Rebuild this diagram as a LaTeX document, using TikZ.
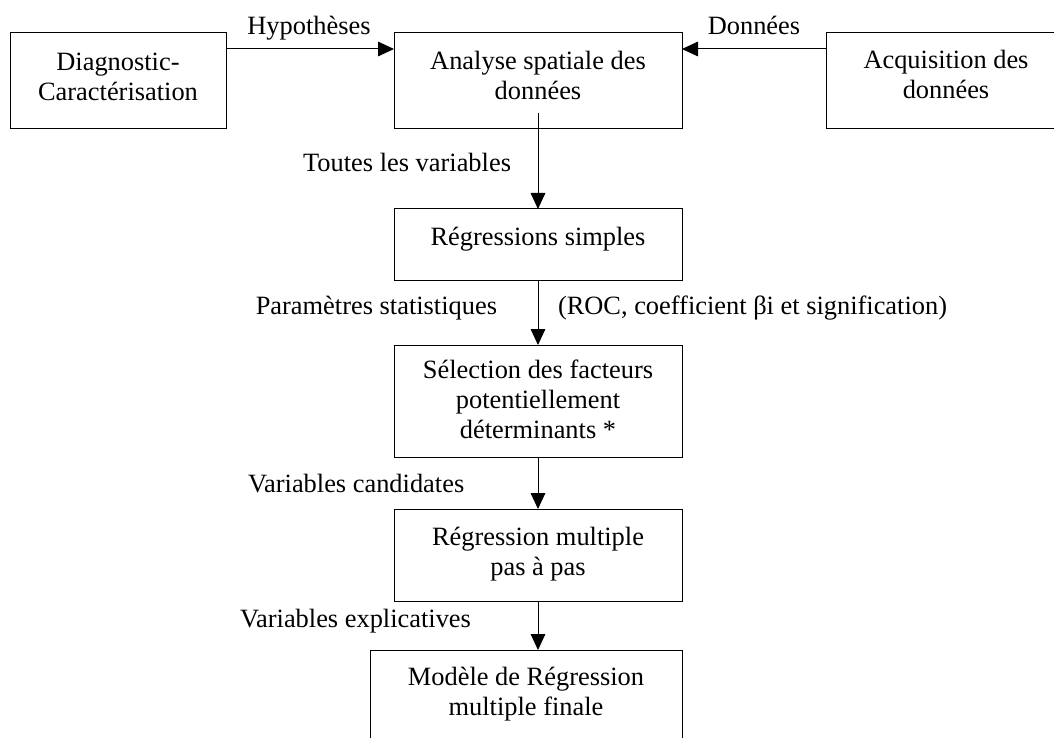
\documentclass[tikz,border=0pt]{standalone}
\usepackage{fontspec}
\setmainfont{Liberation Serif}
\usetikzlibrary{arrows.meta}
\begin{document}
\begin{tikzpicture}[x=0.75pt,y=-0.75pt,
  box/.style={draw,line width=0.75pt,inner sep=0pt,outer sep=0pt,rectangle},
  txt/.style={inner sep=0pt,outer sep=0pt,align=center,font=\fontsize{19.8pt}{22.5pt}\selectfont,anchor=north},
  lbl/.style={inner sep=0pt,outer sep=0pt,font=\fontsize{19.8pt}{22.5pt}\selectfont},
  conn/.style={line width=0.75pt,-{Triangle[length=12pt,width=11pt]}}]
\clip (0,0) rectangle (1054,738);
% boxes
\node[box,minimum width=162pt,minimum height=72pt] (dg) at (118,81) {};
\node[box,minimum width=216pt,minimum height=72pt] (an) at (538,81) {};
\node[box,minimum width=180pt,minimum height=72pt] (aq) at (946,81) {};
\node[box,minimum width=216pt,minimum height=54pt] (rs) at (538,245) {};
\node[box,minimum width=216pt,minimum height=84pt] (sel) at (538,401) {};
\node[box,minimum width=216pt,minimum height=69pt] (rm) at (538,555) {};
\node[box,minimum width=234pt,minimum height=105pt] (mod) at (526,720) {};
% box texts
\node[txt] (tdg) at (118,50) {\strut Diagnostic-\\Caractérisation};
\node[txt] (tan) at (538,49) {\strut Analyse spatiale des\\données};
\node[txt] (taq) at (946,48) {\strut Acquisition des\\données};
\node[txt] (trs) at (538,225) {\strut Régressions simples};
\node[txt] (tsel) at (538,357) {\strut Sélection des facteurs\\potentiellement\\déterminants *};
\node[txt] (trm) at (538,524) {\strut Régression multiple\\pas à pas};
\node[txt] (tmod) at (526,664) {\strut Modèle de Régression\\multiple finale};
% labels
\node[lbl,anchor=base] (lh) at (309,35) {Hypothèses};
\node[lbl,anchor=base] (ld) at (754,35) {Données};
\node[lbl,anchor=base east] (lt) at (511,172) {Toutes les variables};
\node[lbl,anchor=base east] (lp) at (497,315) {Paramètres statistiques};
\node[lbl,anchor=base west] (lr) at (558,315) {(ROC, coefficient βi et signification)};
\node[lbl,anchor=base west] (lc) at (248,492) {Variables candidates};
\node[lbl,anchor=base west] (le) at (240,627) {Variables explicatives};
% connectors
\coordinate (h) at (0,49);
\coordinate (v0) at (538,113);
\draw[conn] (dg.east |- h) -- (an.west |- h);
\draw[conn] (aq.west |- h) -- (an.east |- h);
\draw[conn] (v0) -- (rs.north);
\draw[conn] (rs.south) -- (sel.north);
\draw[conn] (sel.south) -- (rm.north);
\draw[conn] (rm.south) -- (rm.south |- mod.north);
\end{tikzpicture}
\end{document}
